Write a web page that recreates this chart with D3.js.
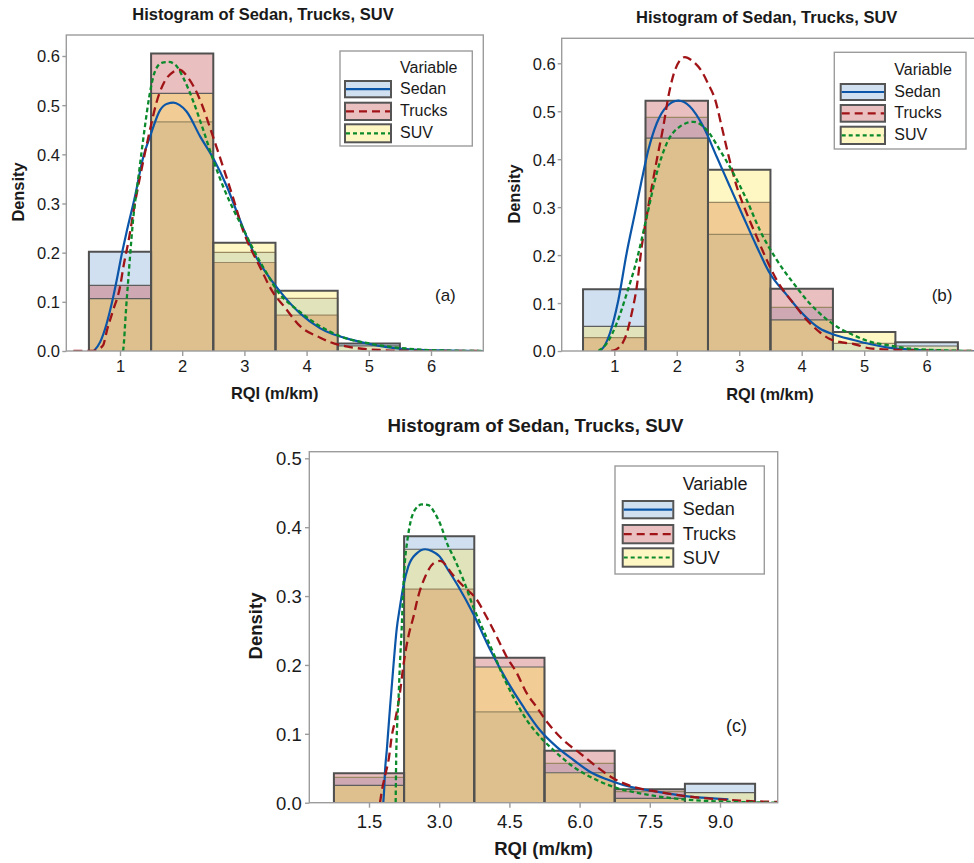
<!DOCTYPE html>
<html><head><meta charset="utf-8">
<script src="https://cdn.jsdelivr.net/npm/d3@7"></script>
<style>
body{margin:0;background:#fff}
svg{display:block}
text{font-family:"Liberation Sans",Arial,Helvetica,sans-serif;fill:#1a1a1a}
</style>
</head><body>
<svg id="chart" width="974" height="863"></svg>
<script>
// ---------------- DATA ----------------
const seriesNames = ["Sedan", "Trucks", "SUV"];
const titleText = "Histogram of Sedan, Trucks, SUV";
const xTitle = "RQI (m/km)";
const yTitle = "Density";
const legendTitle = "Variable";

// Panel (a)
const binEdgesA = [0.5, 1.5, 2.5, 3.5, 4.5, 5.5, 6.5];
const sedanBinsA  = [0.202, 0.466, 0.2007, 0.107, 0.015, 0];
const trucksBinsA = [0.1336, 0.605, 0.18, 0.073, 0, 0];
const suvBinsA    = [0.1064, 0.524, 0.220, 0.1227, 0.0105, 0];
const xTicksA = [1, 2, 3, 4, 5, 6];
const yTicksA = [0, 0.1, 0.2, 0.3, 0.4, 0.5, 0.6];
const sedanCurveA = [[0.58,0],[0.68,0.018],[0.786,0.056],[0.866,0.096],[0.947,0.144],[1.03,0.198],[1.108,0.243],[1.24,0.314],[1.375,0.395],[1.483,0.436],[1.644,0.49],[1.76,0.503],[1.858,0.505],[1.96,0.5],[2.07,0.487],[2.29,0.436],[2.5,0.392],[2.72,0.334],[2.93,0.266],[3.15,0.2],[3.36,0.157],[3.53,0.128],[3.9,0.076],[4.22,0.046],[4.75,0.022],[5.29,0.008],[5.72,0.003],[6.3,0.001],[6.84,0]];
const trucksCurveA = [[0.25,0],[0.55,0],[0.65,0.004],[0.73,0.012],[0.79,0.042],[0.89,0.083],[1.0,0.13],[1.06,0.175],[1.13,0.219],[1.24,0.3],[1.4,0.402],[1.5,0.46],[1.59,0.507],[1.7,0.544],[1.86,0.568],[1.95,0.572],[2.1,0.555],[2.24,0.524],[2.37,0.483],[2.45,0.453],[2.64,0.381],[2.83,0.307],[2.96,0.252],[3.25,0.171],[3.47,0.117],[3.63,0.092],[3.9,0.05],[4.22,0.027],[4.38,0.018],[4.7,0.008],[5.18,0.002],[5.6,0.0005],[6.84,0]];
const suvCurveA = [[1.05,0],[1.065,0.02],[1.08,0.05],[1.1,0.09],[1.13,0.14],[1.16,0.19],[1.21,0.266],[1.29,0.347],[1.35,0.408],[1.4,0.456],[1.47,0.517],[1.56,0.568],[1.67,0.586],[1.78,0.588],[1.89,0.582],[2.02,0.555],[2.18,0.507],[2.34,0.449],[2.5,0.388],[2.66,0.334],[2.83,0.286],[2.99,0.246],[3.15,0.205],[3.36,0.158],[3.52,0.124],[3.9,0.079],[4.22,0.05],[4.54,0.03],[5.02,0.015],[5.61,0.005],[6.2,0.001],[6.84,0]];

// Panel (b)
const binEdgesB = [0.5, 1.5, 2.5, 3.5, 4.5, 5.5, 6.5];
const sedanBinsB  = [0.129, 0.487, 0.243, 0.091, 0.016, 0.018];
const trucksBinsB = [0.028, 0.522, 0.310, 0.130, 0, 0];
const suvBinsB    = [0.0514, 0.444, 0.378, 0.065, 0.0396, 0.0104];
const xTicksB = [1, 2, 3, 4, 5, 6];
const yTicksB = [0, 0.1, 0.2, 0.3, 0.4, 0.5, 0.6];
const sedanCurveB = [[0.77,0],[0.85,0.012],[0.93,0.037],[1.065,0.106],[1.198,0.204],[1.33,0.287],[1.44,0.357],[1.545,0.419],[1.68,0.475],[1.84,0.51],[2.025,0.522],[2.21,0.51],[2.425,0.468],[2.64,0.405],[2.85,0.343],[3.065,0.28],[3.28,0.218],[3.49,0.162],[3.76,0.117],[3.97,0.084],[4.29,0.047],[4.5,0.035],[4.83,0.023],[5.09,0.0146],[5.36,0.0077],[5.68,0.0035],[6.05,0.001],[6.8,0]];
const trucksCurveB = [[0.95,0],[1.04,0.004],[1.2,0.037],[1.28,0.079],[1.36,0.134],[1.44,0.218],[1.545,0.301],[1.68,0.398],[1.785,0.468],[1.865,0.53],[1.97,0.585],[2.13,0.613],[2.25,0.605],[2.4,0.583],[2.5,0.558],[2.61,0.526],[2.72,0.468],[2.82,0.412],[2.96,0.343],[3.12,0.287],[3.28,0.238],[3.44,0.19],[3.6,0.148],[3.87,0.099],[4.13,0.058],[4.3,0.038],[4.45,0.025],[4.65,0.018],[4.83,0.0146],[5.09,0.0056],[5.63,0.002],[6.2,0.0005],[6.8,0]];
const suvCurveB = [[0.745,0],[0.88,0.016],[1.04,0.058],[1.2,0.12],[1.36,0.19],[1.52,0.28],[1.68,0.371],[1.84,0.433],[2.05,0.468],[2.265,0.478],[2.48,0.461],[2.69,0.419],[2.905,0.371],[3.12,0.315],[3.33,0.252],[3.6,0.19],[3.87,0.141],[4.13,0.099],[4.4,0.066],[4.56,0.051],[4.83,0.033],[5.09,0.0194],[5.36,0.0125],[5.68,0.0056],[6.16,0.002],[6.8,0]];

// Panel (c)
const binEdgesC = [0.75, 2.25, 3.75, 5.25, 6.75, 8.25, 9.75];
const sedanBinsC  = [0.0368, 0.387, 0.132, 0.057, 0.016, 0.0276];
const trucksBinsC = [0.0426, 0.310, 0.2105, 0.0755, 0.0194, 0];
const suvBinsC    = [0.0252, 0.368, 0.197, 0.0435, 0.0064, 0.0145];
const xTicksC = [1.5, 3.0, 4.5, 6.0, 7.5, 9.0];
const yTicksC = [0, 0.1, 0.2, 0.3, 0.4, 0.5];
const sedanCurveC = [[1.805,0],[1.825,0.02],[1.84,0.043],[1.88,0.076],[1.95,0.139],[2.02,0.197],[2.09,0.251],[2.16,0.284],[2.23,0.313],[2.34,0.343],[2.52,0.362],[2.7,0.368],[2.85,0.365],[3.0,0.358],[3.19,0.338],[3.4,0.315],[3.73,0.274],[4.09,0.222],[4.44,0.178],[4.8,0.139],[5.15,0.1055],[5.51,0.081],[5.87,0.062],[6.22,0.045],[6.58,0.034],[6.93,0.0257],[7.65,0.016],[8.36,0.0087],[9.18,0.005]];
const trucksCurveC = [[1.735,0],[1.79,0.023],[1.84,0.038],[1.93,0.067],[1.985,0.096],[2.06,0.12],[2.16,0.159],[2.23,0.197],[2.34,0.241],[2.45,0.27],[2.55,0.299],[2.7,0.328],[2.87,0.347],[3.02,0.351],[3.3,0.33],[3.55,0.312],[3.78,0.297],[4.01,0.27],[4.23,0.241],[4.44,0.212],[4.66,0.188],[4.87,0.159],[5.08,0.139],[5.33,0.115],[5.65,0.091],[6.01,0.0717],[6.37,0.052],[6.72,0.0354],[7.15,0.023],[7.65,0.016],[8.36,0.0087],[9.43,0.003],[10.23,0.001]];
const suvCurveC = [[2.07,0],[2.08,0.06],[2.1,0.11],[2.13,0.15],[2.16,0.2],[2.2,0.255],[2.23,0.309],[2.27,0.352],[2.32,0.381],[2.38,0.4055],[2.48,0.425],[2.63,0.433],[2.77,0.432],[2.91,0.42],[3.05,0.4],[3.16,0.378],[3.34,0.352],[3.52,0.323],[3.73,0.284],[3.94,0.251],[4.16,0.217],[4.37,0.183],[4.58,0.154],[4.87,0.12],[5.15,0.096],[5.44,0.0765],[5.87,0.052],[6.29,0.0354],[6.72,0.023],[7.29,0.0136],[8.0,0.0064],[8.72,0.0025],[10.23,0]];

// ---------------- STYLE / LAYOUT ----------------
const regionColors = {
  "0": "#d0e0f0", "1": "#eabfc0", "2": "#fff7c3",
  "01": "#cea9b3", "12": "#f1cc95", "02": "#e1e4bb",
  "012": "#ddc08d"
};
const lineStyles = [
  {color: "#0b56a8", dash: null, width: 2.2},
  {color: "#a01418", dash: "9,5", width: 2.3},
  {color: "#0b8a2c", dash: "4.5,3", width: 2.3}
];
const swatchDash = [null, "8,5", "4,3"];

const panels = [
  {tag: "(a)", bins: binEdgesA, vals: [sedanBinsA, trucksBinsA, suvBinsA], curves: [sedanCurveA, trucksCurveA, suvCurveA],
   xTicks: xTicksA, yTicks: yTicksA, xFmt: d3.format("d"),
   frame: {x0: 66.3, x1: 483.3, y0: 35, y1: 351}, xDom: [0.1367, 6.841], yDom: [0, 0.6427],
   fs: {title: 16.5, axis: 16.4, tick: 16.5, legend: 16, tag: 17},
   title: {x: 263, y: 20}, yT: {x: 24, y: 192}, xT: {x: 274.7, y: 399},
   xTickY: 371.7, yTickGap: 6.3, xTickLen: 5, yTickLen: 4,
   legend: {x0: 340, x1: 472.3, y0: 51, y1: 146, sx0: 345, sx1: 391, rows: [[81, 97.3], [102.7, 120], [124.3, 142.3]], tx: 400, base: [72.7, 94, 116, 138.3]},
   tagPos: {x: 435, y: 301}},
  {tag: "(b)", bins: binEdgesB, vals: [sedanBinsB, trucksBinsB, suvBinsB], curves: [sedanCurveB, trucksCurveB, suvCurveB],
   xTicks: xTicksB, yTicks: yTicksB, xFmt: d3.format("d"),
   frame: {x0: 561.7, x1: 976, y0: 38.3, y1: 351}, xDom: [0.1585, 6.79], yDom: [0, 0.6521],
   fs: {title: 16.5, axis: 16.4, tick: 16.5, legend: 16, tag: 17},
   title: {x: 766.7, y: 23.3}, yT: {x: 519.5, y: 194}, xT: {x: 770, y: 400},
   xTickY: 372, yTickGap: 6, xTickLen: 5, yTickLen: 4,
   legend: {x0: 834.3, x1: 966, y0: 52.3, y1: 149, sx0: 840.7, sx1: 885, rows: [[84, 100], [105, 121.7], [126.7, 144]], tx: 894.3, base: [75, 96.7, 118.3, 140]},
   tagPos: {x: 931.7, y: 301}},
  {tag: "(c)", bins: binEdgesC, vals: [sedanBinsC, trucksBinsC, suvBinsC], curves: [sedanCurveC, trucksCurveC, suvCurveC],
   xTicks: xTicksC, yTicks: yTicksC, xFmt: d3.format(".1f"),
   frame: {x0: 309.3, x1: 777.7, y0: 451.7, y1: 802.7}, xDom: [0.2244, 10.233], yDom: [0, 0.5096],
   fs: {title: 18.7, axis: 18.5, tick: 18.5, legend: 18, tag: 18},
   title: {x: 535.6, y: 431.7}, yT: {x: 261.5, y: 626}, xT: {x: 543.6, y: 855},
   xTickY: 827.5, yTickGap: 7.6, xTickLen: 5, yTickLen: 4.3,
   legend: {x0: 615, x1: 764.3, y0: 466, y1: 574, sx0: 622.7, sx1: 673.3, rows: [[501, 518.3], [525, 543.3], [548.3, 566.7]], tx: 682.7, base: [490, 515, 540, 563.5]},
   tagPos: {x: 726, y: 732}}
];

const svg = d3.select("#chart");
const frameColor = "#9c9c9c";

panels.forEach((p, pi) => {
  const f = p.frame;
  const x = d3.scaleLinear().domain(p.xDom).range([f.x0, f.x1]);
  const y = d3.scaleLinear().domain(p.yDom).range([f.y1, f.y0]);
  const g = svg.append("g");

  // clip
  const clipId = "clip" + pi;
  svg.append("clipPath").attr("id", clipId).append("rect")
    .attr("x", f.x0).attr("y", f.y0).attr("width", f.x1 - f.x0).attr("height", f.y1 - f.y0);

  // title
  g.append("text").attr("x", p.title.x).attr("y", p.title.y).attr("text-anchor", "middle")
    .style("font-weight", "bold").style("font-size", p.fs.title + "px").text(titleText);

  // histogram fills
  const hg = g.append("g");
  const lineOps = [];
  for (let b = 0; b < p.bins.length - 1; b++) {
    const xa = x(p.bins[b]), xb = x(p.bins[b + 1]);
    const v = p.vals.map(s => s[b]);
    const order = [0, 1, 2].sort((i, j) => v[j] - v[i]);
    // regions from top down
    for (let k = 0; k < 3; k++) {
      const top = v[order[k]];
      const bot = k < 2 ? v[order[k + 1]] : 0;
      if (top <= 0 || top <= bot) continue;
      const key = order.slice(0, k + 1).sort().join("");
      hg.append("rect").attr("x", xa).attr("width", xb - xa)
        .attr("y", y(top)).attr("height", y(bot) - y(top))
        .attr("fill", regionColors[key]);
    }
    // outlines
    v.forEach((val, j) => {
      if (val <= 0) return;
      const isMax = j === order[0];
      const tinted = !isMax && [0, 1, 2].some(k => k > j && v[k] > val);
      lineOps.push({xa, xb, val, rank: isMax ? 2 : (tinted ? 0 : 1)});
    });
  }
  lineOps.sort((a, b) => a.rank - b.rank).forEach(o => {
    const col = o.rank === 2 ? "#505050" : (o.rank === 1 ? "#5e5e5e" : "#9a8862");
    const w = o.rank === 2 ? 2 : 1.2;
    hg.append("path")
      .attr("d", `M${o.xa},${y(0)}V${y(o.val)}H${o.xb}V${y(0)}`)
      .attr("fill", "none").attr("stroke", col).attr("stroke-width", w);
  });

  // curves
  const line = d3.line().x(d => x(d[0])).y(d => y(d[1])).curve(d3.curveMonotoneX);
  const cg = g.append("g").attr("clip-path", `url(#${clipId})`);
  p.curves.forEach((c, i) => {
    const st = lineStyles[i];
    cg.append("path").attr("d", line(c)).attr("fill", "none")
      .attr("stroke", st.color).attr("stroke-width", st.width)
      .attr("stroke-dasharray", st.dash).attr("stroke-linejoin", "round");
  });

  // frame
  g.append("rect").attr("x", f.x0).attr("y", f.y0).attr("width", f.x1 - f.x0).attr("height", f.y1 - f.y0)
    .attr("fill", "none").attr("stroke", frameColor).attr("stroke-width", 1.4);

  // axes
  const xAxis = d3.axisBottom(x).tickValues(p.xTicks).tickFormat(p.xFmt).tickSize(p.xTickLen).tickSizeOuter(0).tickPadding(2);
  const xg = g.append("g").attr("transform", `translate(0,${f.y1})`).call(xAxis);
  xg.select(".domain").remove();
  xg.selectAll(".tick line").attr("stroke", frameColor).attr("stroke-width", 1.4);
  xg.selectAll(".tick text").attr("y", null).attr("dy", null)
    .attr("transform", `translate(0,${p.xTickY - f.y1})`)
    .style("font-size", p.fs.tick + "px").style("font-family", '"Liberation Sans",Arial,sans-serif').attr("fill", "#1a1a1a");

  const yAxis = d3.axisLeft(y).tickValues(p.yTicks).tickFormat(d3.format(".1f")).tickSize(p.yTickLen).tickSizeOuter(0).tickPadding(p.yTickGap - p.yTickLen);
  const yg = g.append("g").attr("transform", `translate(${f.x0},0)`).call(yAxis);
  yg.select(".domain").remove();
  yg.selectAll(".tick line").attr("stroke", frameColor).attr("stroke-width", 1.4);
  yg.selectAll(".tick text").attr("dy", "0.36em")
    .style("font-size", p.fs.tick + "px").style("font-family", '"Liberation Sans",Arial,sans-serif').attr("fill", "#1a1a1a");

  // axis titles
  g.append("text").attr("transform", `translate(${p.yT.x},${p.yT.y}) rotate(-90)`).attr("text-anchor", "middle")
    .style("font-weight", "bold").style("font-size", p.fs.axis + "px").text(yTitle);
  g.append("text").attr("x", p.xT.x).attr("y", p.xT.y).attr("text-anchor", "middle")
    .style("font-weight", "bold").style("font-size", p.fs.axis + "px").text(xTitle);

  // legend
  const L = p.legend;
  const lg = g.append("g");
  lg.append("rect").attr("x", L.x0).attr("y", L.y0).attr("width", L.x1 - L.x0).attr("height", L.y1 - L.y0)
    .attr("fill", "#fff").attr("stroke", frameColor).attr("stroke-width", 1.4);
  lg.append("text").attr("x", L.tx).attr("y", L.base[0]).style("font-size", p.fs.legend + "px").text(legendTitle);
  seriesNames.forEach((name, i) => {
    const [r0, r1] = L.rows[i];
    lg.append("rect").attr("x", L.sx0).attr("y", r0).attr("width", L.sx1 - L.sx0).attr("height", r1 - r0)
      .attr("fill", regionColors[String(i)]).attr("stroke", "#555").attr("stroke-width", 2);
    lg.append("line").attr("x1", L.sx0 + 1).attr("x2", L.sx1 - 1).attr("y1", (r0 + r1) / 2).attr("y2", (r0 + r1) / 2)
      .attr("stroke", lineStyles[i].color).attr("stroke-width", 2.2).attr("stroke-dasharray", swatchDash[i]);
    lg.append("text").attr("x", L.tx).attr("y", L.base[i + 1]).style("font-size", p.fs.legend + "px").text(name);
  });

  // panel tag
  g.append("text").attr("x", p.tagPos.x).attr("y", p.tagPos.y).style("font-size", p.fs.tag + "px").text(p.tag);
});
</script>
</body></html>
